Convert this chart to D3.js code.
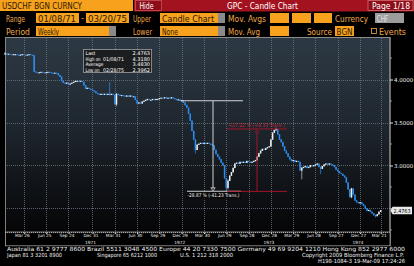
<!DOCTYPE html>
<html><head><meta charset="utf-8">
<script src="https://cdn.jsdelivr.net/npm/d3@7"></script>
<style>
html,body{margin:0;padding:0;background:#000;}
svg{display:block;}
text{font-family:"DejaVu Sans",sans-serif;}
</style></head><body>
<svg id="c" width="414" height="266"></svg>
<script>
// ---- DATA ----
const closes = [
 4.30,4.29,4.295,4.29,4.285,4.29,4.29,4.285,4.28,4.285,4.29,4.285,4.28,4.285,4.29,4.285,
 4.28,4.09,
 4.08,4.075,4.08,4.085,4.08,4.075,4.08,4.085,4.08,4.075,4.07,4.075,4.07,
 4.05,4.03,
 3.98,3.96,3.95,3.96,
 3.94,3.95,3.96,
 3.97,3.98,3.98,3.975,3.98,3.97,
 3.93,3.89,3.90,3.89,3.88,3.87,
 3.86,3.84,3.83,3.82,3.83,3.82,3.83,3.82,
 3.83,3.82,
 3.83,3.82,3.71,3.83,
 3.82,3.81,3.815,3.81,3.80,3.81,3.80,3.81,3.80,3.80,
 3.76,3.72,3.73,3.72,3.74,
 3.75,3.76,3.77,3.76,3.76,3.77,3.76,3.77,3.77,
 3.78,3.785,3.78,3.79,3.78,3.785,3.78,3.79,3.78,
 3.77,3.76,3.765,3.75,3.755,
 3.73,3.70,3.67,3.60,3.52,3.40,3.30,3.18,
 3.24,3.25,
 3.26,3.25,3.26,3.25,3.26,3.25,
 3.24,3.23,3.18,3.13,3.10,3.07,3.03,3.00,
 2.85,2.74,2.82,2.88,2.92,2.97,
 3.02,3.03,3.02,3.04,3.03,
 3.04,3.03,3.05,3.04,3.03,3.04,3.05,3.06,
 3.10,3.14,
 3.17,3.19,3.18,3.20,3.21,3.22,
 3.30,3.38,3.41,3.42,
 3.36,3.30,3.27,3.22,3.17,3.14,3.10,
 3.07,3.05,3.06,3.04,3.05,3.04,
 2.94,2.97,
 2.98,2.99,2.97,2.98,3.00,2.99,3.00,3.01,3.02,
 2.98,2.96,2.99,
 3.01,3.02,3.01,3.02,3.01,3.00,
 2.98,2.95,2.93,2.91,2.90,2.88,2.86,
 2.80,2.72,2.63,2.73,
 2.66,2.59,
 2.57,2.56,2.57,2.55,
 2.53,2.50,2.47,
 2.48,2.46,2.44,2.42,2.41,2.43,
 2.46,2.4763
];
// [week index, high, low] for weeks with visible wicks
const wicks = [
 [0,4.318,4.29],[61,3.97,3.81],[65,3.84,3.69],[111,3.30,3.14],[129,2.85,2.70],
 [130,2.84,2.72],[158,3.44,3.40],[173,2.98,2.84],[184,2.99,2.90],[202,2.74,2.62],
 [216,2.43,2.3962]
];
const tickDates = ["1971-03-26","1971-06-25","1971-09-24","1971-12-31","1972-03-31","1972-06-30",
 "1972-09-29","1972-12-29","1973-03-30","1973-06-29","1973-09-28","1973-12-28","1974-03-29",
 "1974-06-28","1974-09-27","1974-12-27","1975-03-21"];
const tickLabels = ["Mar 26","Jun 25","Sep 24","Dec 31","Mar 31","Jun 30","Sep 29","Dec 29",
 "Mar 30","Jun 29","Sep 28","Dec 28","Mar 29","Jun 28","Sep 27","Dec 27","Mar 21"];
const yearLabels = ["1971","1972","1973","1974"];
const yearTickDates = ["1971-12-31","1972-12-29","1973-12-28","1974-12-27"];
const yTicks = [4.0,3.5,3.0];
const yMinorTicks = [4.25,3.75,3.25,2.75,2.5,2.25];
const lastValue = 2.4763;
const infoLabels = ["Last","High on","Average","Low on"];
const infoDates = ["","01/08/71","","02/28/75"];
const infoValues = ["2.4763","4.3180","3.4830","2.3962"];
const measureDown = {startDate:"1972-12-29", start:3.753, low:2.704, text:"-28.87 % (-41.23 Trans.)"};
const measureUp = {low:2.704, high:3.39, text:"+27.22 % (+8.33 Trans.)"};

// ---- SETUP ----
const svg = d3.select("#c");
const W = 414, H = 266;
const P = {l:5, r:389.5, t:38, b:232};
const day = 864e5;
const t0 = Date.UTC(1971,0,8);
const weekDate = i => new Date(t0 + i*7*day);
const parse = s => { const [y,m,d] = s.split("-").map(Number); return new Date(Date.UTC(y,m-1,d)); };
const x = d3.scaleUtc().domain([new Date(t0), new Date(Date.UTC(1975,3,26))]).range([P.l, P.r]);
const y = d3.scaleLinear().domain([2.2267, 4.4826]).range([P.b, P.t]);

svg.append("rect").attr("width",W).attr("height",H).attr("fill","#000");

// ---- HEADER ----
const ORANGE = "#f7a11c", LBL = "#f0a84a", RED = "#a3121f";
function fieldBox(x0,y0,w,h,fill){ return svg.append("rect").attr("x",x0).attr("y",y0).attr("width",w).attr("height",h).attr("fill",fill); }
function txt(x0,y0,s,opt={}){
  const t = svg.append("text").attr("x",x0).attr("y",y0).text(s)
    .attr("font-size",opt.size||8).attr("fill",opt.fill||"#fff");
  if(opt.len){ t.attr("textLength",opt.len).attr("lengthAdjust","spacingAndGlyphs"); }
  if(opt.anchor) t.attr("text-anchor",opt.anchor);
  return t;
}
// row 1
fieldBox(0,0,133,11,ORANGE);
txt(2,9,"USDCHF BGN CURNCY",{fill:"#2a1800",len:80});
fieldBox(134,0,280,11.5,RED);
svg.append("rect").attr("x",135.5).attr("y",0.5).attr("width",26).attr("height",10).attr("fill","#8d0e19").attr("stroke","#c9505b").attr("stroke-width",0.8);
txt(139.5,8.8,"Hide",{len:14});
txt(227,9,"GPC - Candle Chart",{len:71});
svg.append("rect").attr("x",368).attr("y",0.5).attr("width",45).attr("height",10).attr("fill","#8d0e19").attr("stroke","#d46a74").attr("stroke-width",0.8);
txt(372,8.8,"Page 1/18",{len:38});
// row 2
txt(6,21.5,"Range",{fill:LBL,len:19});
fieldBox(36,13,43,10,ORANGE); txt(38,21.5,"01/08/71",{fill:"#2a1800",len:38});
txt(81,21,"-",{fill:LBL,size:8});
fieldBox(86,13,43,10,ORANGE); txt(88,21.5,"03/20/75",{fill:"#2a1800",len:39});
txt(133,21.5,"Upper",{fill:LBL,len:18});
fieldBox(160,13,58,10,ORANGE); txt(162,21.5,"Candle Chart",{fill:"#2a1800",len:52});
fieldBox(218,13,7,10,"#8a8a8a");
txt(228,21.5,"Mov. Avgs",{fill:LBL,len:38});
fieldBox(270,13,19,10,ORANGE); fieldBox(292,13,19,10,ORANGE); fieldBox(314,13,18,10,ORANGE);
txt(335,21.5,"Currency",{fill:LBL,len:33});
fieldBox(375,13,29,10,"#9c9c9c"); txt(376.5,21.5,"CHF",{fill:"#e0e0e0",len:12});
// row 3
txt(6,34.5,"Period",{fill:LBL,len:24});
fieldBox(36,26,73,10,ORANGE); txt(38,34.5,"Weekly",{fill:"#2a1800",len:21});
fieldBox(109,26,7,10,"#8a8a8a");
txt(133,34.5,"Lower",{fill:LBL,len:19});
fieldBox(160,26,58,10,ORANGE); txt(162,34.5,"None",{fill:"#2a1800",len:16});
fieldBox(218,26,7,10,"#8a8a8a");
txt(228,34.5,"Mov. Avg",{fill:LBL,len:32});
fieldBox(270,26,19,10,ORANGE);
txt(307,34.5,"Source",{fill:LBL,len:25});
fieldBox(335,26,19,10,ORANGE); txt(336.5,34.5,"BGN",{fill:"#2a1800",len:16});
svg.append("rect").attr("x",371.5).attr("y",28.5).attr("width",5).attr("height",5).attr("fill","none").attr("stroke",LBL).attr("stroke-width",0.8);
txt(379,34.5,"Events",{fill:LBL,len:27});

// ---- PLOT BACKGROUND ----
const defs = svg.append("defs");
const g = defs.append("linearGradient").attr("id","bg").attr("x1",0).attr("y1",0).attr("x2",0).attr("y2",1);
[[0,"#2c3843"],[0.22,"#27313b"],[0.45,"#1e262e"],[0.66,"#151a1f"],[0.85,"#0c0e11"],[1,"#050506"]]
 .forEach(([o,c])=>g.append("stop").attr("offset",o).attr("stop-color",c));
svg.append("rect").attr("x",P.l).attr("y",P.t).attr("width",P.r-P.l).attr("height",P.b-P.t).attr("fill","url(#bg)");

// gridlines
svg.append("g").selectAll("line").data(yTicks.concat([2.5])).join("line")
  .attr("x1",P.l).attr("x2",P.r).attr("y1",d=>Math.round(y(d))+0.5).attr("y2",d=>Math.round(y(d))+0.5)
  .attr("stroke","#6c7680").attr("stroke-width",0.8).attr("stroke-dasharray","1,1");
svg.append("g").selectAll("line").data(tickDates).join("line")
  .attr("x1",d=>Math.round(x(parse(d)))+0.5).attr("x2",d=>Math.round(x(parse(d)))+0.5)
  .attr("y1",P.t).attr("y2",P.b)
  .attr("stroke","#6c7680").attr("stroke-width",0.8).attr("stroke-dasharray","1,1");

// frame
svg.append("line").attr("x1",P.l).attr("x2",P.r).attr("y1",P.t-0.5).attr("y2",P.t-0.5).attr("stroke","#8a8a8a").attr("stroke-width",1);
svg.append("line").attr("x1",P.l+0.5).attr("x2",P.l+0.5).attr("y1",P.t).attr("y2",246).attr("stroke","#9a9a9a").attr("stroke-width",0.8);

// ---- INFO BOX ----
svg.append("rect").attr("x",83.5).attr("y",49.5).attr("width",68).attr("height",23).attr("fill","#1b1d1f").attr("stroke","#a0a0a0").attr("stroke-width",0.8);
const labelLens = [10,15,18,14];
infoLabels.forEach((s,i)=>{
  const by = 55 + i*5.6;
  txt(85.5,by,s,{size:5,len:labelLens[i]});
  if(infoDates[i]) txt(103,by,infoDates[i],{size:5,len:21});
  txt(150,by,infoValues[i],{size:5,anchor:"end"});
});

// ---- CANDLES ----
const candles = closes.map((c,i)=>{
  const o = i===0 ? closes[0] : closes[i-1];
  let hi = Math.max(o,c), lo = Math.min(o,c);
  const w = wicks.find(k=>k[0]===i);
  if(w){ hi = Math.max(hi,w[1]); lo = Math.min(lo,w[2]); }
  return {d:weekDate(i), o, c, hi, lo, up: c>=o};
});
const BLUE = "#2d8ef0", WHITE = "#eef0f2";
const cg = svg.append("g");
cg.selectAll("line").data(candles).join("line")
  .attr("x1",d=>x(d.d)).attr("x2",d=>x(d.d))
  .attr("y1",d=>y(d.hi)).attr("y2",d=>y(d.lo))
  .attr("stroke",d=>d.up?"#c8ccd0":BLUE).attr("stroke-width",0.7);
cg.selectAll("rect").data(candles).join("rect")
  .attr("x",d=>x(d.d)-0.75).attr("width",1.5)
  .attr("y",d=>Math.min(y(d.o),y(d.c))-0.4)
  .attr("height",d=>Math.max(1.1,Math.abs(y(d.o)-y(d.c))+0.4))
  .attr("fill",d=>d.up?WHITE:BLUE);

// ---- ANNOTATIONS ----
const ax = x(parse(measureDown.startDate));
const WL = "#e6e6e6";
const yS = y(measureDown.start), yL = y(measureDown.low);
svg.append("line").attr("x1",ax-1).attr("x2",243).attr("y1",yS).attr("y2",yS).attr("stroke",WL).attr("stroke-width",0.9);
svg.append("line").attr("x1",213).attr("x2",213).attr("y1",yS).attr("y2",yL-2.5).attr("stroke",WL).attr("stroke-width",0.9);
svg.append("path").attr("d",`M210.8,${yL-3.2} L215.2,${yL-3.2} L213,${yL} Z`).attr("fill","none").attr("stroke",WL).attr("stroke-width",0.7);
svg.append("line").attr("x1",187).attr("x2",241).attr("y1",yL+0.3).attr("y2",yL+0.3).attr("stroke",WL).attr("stroke-width",0.9);
svg.append("rect").attr("x",186.5).attr("y",yL+1.2).attr("width",55).attr("height",6.4).attr("fill","#0a0a0a");
txt(187.5,yL+6.5,measureDown.text,{size:5,len:52,fill:"#f0f0f0"});

const RL = "#b3142a";
const yH = y(measureUp.high);
txt(228,yH-5,measureUp.text,{size:5,len:57,fill:"#c8243a"});
svg.append("line").attr("x1",227).attr("x2",287).attr("y1",yH-3).attr("y2",yH-3).attr("stroke",RL).attr("stroke-width",0.9);
svg.append("circle").attr("cx",257).attr("cy",yH).attr("r",1.4).attr("fill","none").attr("stroke",RL).attr("stroke-width",0.8);
svg.append("line").attr("x1",257).attr("x2",257).attr("y1",yH+1.4).attr("y2",yL+0.3).attr("stroke",RL).attr("stroke-width",0.9);
svg.append("line").attr("x1",227).attr("x2",287).attr("y1",yL+0.4).attr("y2",yL+0.4).attr("stroke",RL).attr("stroke-width",0.9);

// ---- RIGHT AXIS ----
svg.append("rect").attr("x",P.r+0.5).attr("y",P.t-1).attr("width",W-P.r).attr("height",P.b-P.t+15).attr("fill","#000");
svg.append("line").attr("x1",P.r+0.5).attr("x2",P.r+0.5).attr("y1",P.t-1).attr("y2",246).attr("stroke","#d8d8d8").attr("stroke-width",1);
const yAxis = d3.axisRight(y).tickValues(yTicks).tickSize(3).tickFormat(d3.format(".4f"));
const ya = svg.append("g").attr("transform",`translate(${P.r+0.5},0)`).call(yAxis);
ya.select(".domain").remove();
ya.selectAll("line").attr("stroke","#e0e0e0");
ya.selectAll("text").attr("fill","#f0f0f0").attr("font-size",5.5).attr("x",4).attr("font-family","DejaVu Sans");
svg.append("g").selectAll("line").data(yMinorTicks).join("line")
  .attr("x1",P.r+0.5).attr("x2",P.r+2.5).attr("y1",d=>y(d)).attr("y2",d=>y(d)).attr("stroke","#bbb").attr("stroke-width",0.7);
// last price tag
const yl = y(lastValue);
svg.append("path").attr("d",`M${P.r+1},${yl} L${P.r+3},${yl-3.8} L${P.r+22.5},${yl-3.8} L${P.r+22.5},${yl+3.8} L${P.r+3},${yl+3.8} Z`).attr("fill","#e8e8e8");
txt(P.r+4,yl+2,d3.format(".4f")(lastValue),{size:5.5,fill:"#000",len:17});

// ---- X AXIS ----
svg.append("rect").attr("x",P.l+0.5).attr("y",P.b).attr("width",P.r-P.l).attr("height",13.8).attr("fill","#000").attr("stroke","#9a9a9a").attr("stroke-width",0.8);
svg.append("line").attr("x1",P.l).attr("x2",P.r).attr("y1",P.b+0.6).attr("y2",P.b+0.6).attr("stroke","#cfcfcf").attr("stroke-width",0.8).attr("stroke-dasharray","1,1");
const xAxis = d3.axisBottom(x).tickValues(tickDates.map(parse)).tickSize(1.5).tickFormat((d,i)=>tickLabels[i]);
const xa = svg.append("g").attr("transform",`translate(0,${P.b+0.5})`).call(xAxis);
xa.select(".domain").remove();
xa.selectAll("line").attr("stroke","#ddd");
xa.selectAll("text").attr("fill","#f0f0f0").attr("font-size",4.3).attr("dy",0).attr("y",4.4).attr("dx",-2).attr("font-family","DejaVu Sans");
svg.append("g").selectAll("text").data(yearLabels).join("text")
  .attr("x",(d,i)=>x(parse(yearTickDates[i]))-2).attr("y",243.5).attr("text-anchor","middle")
  .attr("font-size",4.3).attr("fill","#e8e8e8").text(d=>d);

// ---- FOOTER ----
const F = {size:5.6, fill:"#f2f2f2"};
txt(7,251,"Australia 61 2 9777 8600 Brazil 5511 3048 4500 Europe 44 20 7330 7500 Germany 49 69 9204 1210 Hong Kong 852 2977 6000",{...F,len:398});
txt(7,256.5,"Japan 81 3 3201 8900",{...F,len:55});
txt(97,256.5,"Singapore 65 6212 1000",{...F,len:60});
txt(180,256.5,"U.S. 1 212 318 2000",{...F,len:53});
txt(302,256.5,"Copyright 2009 Bloomberg Finance L.P.",{...F,len:102});
txt(318,262.5,"H198-1084-3 19-Mar-09 17:24:26",{...F,len:87});
</script>
</body></html>
